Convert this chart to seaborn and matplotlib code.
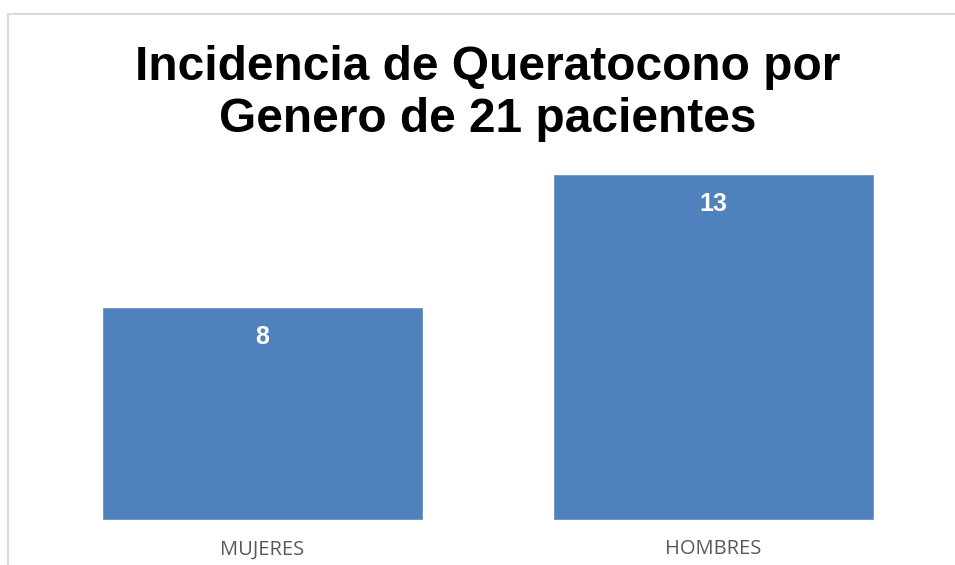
import matplotlib
matplotlib.use("Agg")
import matplotlib.pyplot as plt
import seaborn as sns
import pandas as pd
from matplotlib.patches import Rectangle

# Datos
categorias = ["MUJERES", "HOMBRES"]
pacientes = [8, 13]
titulo = "Incidencia de Queratocono por\nGenero de 21 pacientes"

sns.set_theme(style="white")
plt.rcParams['font.family'] = ['Liberation Sans', 'DejaVu Sans']

df = pd.DataFrame({"genero": categorias, "pacientes": pacientes})

W, H = 955, 565
fig = plt.figure(figsize=(W / 100, H / 100), dpi=100)
ax = fig.add_axes([37 / W, (H - 520) / H, (939 - 37) / W, (520 - 147.2) / H])

sns.barplot(data=df, x="genero", y="pacientes", color="#4F81BD",
            width=0.712, saturation=1, ax=ax)

ax.set_xlim(-0.5, 1.5)
ax.set_ylim(0, 14)
ax.set_yticks([])
ax.set_xlabel("")
ax.set_ylabel("")
for s in ax.spines.values():
    s.set_visible(False)
ax.tick_params(axis="x", length=0, pad=14)
for lbl in ax.get_xticklabels():
    lbl.set_fontfamily(["Open Sans", "DejaVu Sans"])
    lbl.set_fontsize(14.5)
    lbl.set_color("#595959")

# etiquetas de valor dentro de la barra
for i, v in enumerate(pacientes):
    ax.annotate(str(v), (i, v), xytext=(0, -30.5), textcoords="offset pixels",
                ha="center", va="center", color="white",
                fontsize=18, fontweight="bold")

fig.text(488 / W, 1 - 93 / H, titulo, ha="center", va="center",
         fontsize=34.5, fontweight="bold", color="black", linespacing=1.2)

# borde del área del gráfico
fig.add_artist(Rectangle((8 / W, -0.1), 1.1, 1 - 14 / H + 0.1,
                         transform=fig.transFigure, fill=False,
                         edgecolor="#d9d9d9", linewidth=1.5))

fig.savefig("out.png", dpi=100)
